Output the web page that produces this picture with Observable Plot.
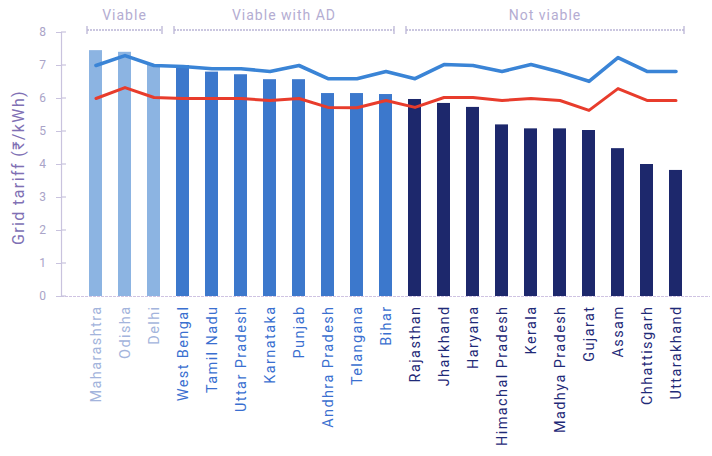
<!DOCTYPE html>
<html>
<head>
<meta charset="utf-8">
<script src="https://cdn.jsdelivr.net/npm/d3@7"></script>
<script src="https://cdn.jsdelivr.net/npm/@observablehq/plot@0.6"></script>
<style>
  html, body { margin: 0; padding: 0; background: #fff; }
  svg { font-family: Roboto, "DejaVu Sans", sans-serif; }
</style>
</head>
<body>
<div id="chart"></div>
<script>
const states = ["Maharashtra","Odisha","Delhi","West Bengal","Tamil Nadu","Uttar Pradesh","Karnataka","Punjab","Andhra Pradesh","Telangana","Bihar","Rajasthan","Jharkhand","Haryana","Himachal Pradesh","Kerala","Madhya Pradesh","Gujarat","Assam","Chhattisgarh","Uttarakhand"];
const groupOf = ["Viable","Viable","Viable","Viable with AD","Viable with AD","Viable with AD","Viable with AD","Viable with AD","Viable with AD","Viable with AD","Viable with AD","Not viable","Not viable","Not viable","Not viable","Not viable","Not viable","Not viable","Not viable","Not viable","Not viable"];
const gridTariff = [7.45,7.4,7.02,7.0,6.8,6.72,6.57,6.57,6.15,6.15,6.12,5.97,5.85,5.73,5.2,5.08,5.08,5.03,4.48,4.0,3.82];
const blueLine = [7.0,7.3,7.0,6.97,6.9,6.9,6.82,7.0,6.6,6.6,6.82,6.6,7.03,7.0,6.82,7.03,6.8,6.52,7.24,6.82,6.82];
const redLine = [6.0,6.33,6.03,6.0,6.0,6.0,5.94,6.0,5.73,5.72,5.94,5.73,6.03,6.03,5.94,6.0,5.94,5.64,6.3,5.94,5.94];
const groupNames = ["Viable","Viable with AD","Not viable"];
const yTicks = [0,1,2,3,4,5,6,7,8];
const yTitle = "Grid tariff (₹/kWh)";

const barColors = ["#8cb4e2","#3c78cc","#1d286c"];
const labelColors = ["#a3b4dc","#3a6fd0","#1f2a78"];
const labelWeights = [400, 600, 600];

const data = states.map((s, i) => ({state: s, group: groupOf[i], tariff: gridTariff[i], blue: blueLine[i], red: redLine[i]}));

const plot = Plot.plot({
  width: 712,
  height: 456,
  marginTop: 32,
  marginBottom: 160,
  marginLeft: 61,
  marginRight: 2,
  x: {domain: states, paddingInner: 0.55, paddingOuter: 0.6, axis: null},
  y: {domain: [0, 8], axis: null},
  color: {domain: groupNames, range: barColors},
  marks: [
    Plot.barY(data, {x: "state", y: "tariff", fill: "group"}),
    Plot.ruleY([0], {stroke: "#cfc3e2", strokeWidth: 1.2, strokeDasharray: "3,1"}),
    Plot.frame({anchor: "left", stroke: "#c9c3de", strokeWidth: 1.2}),
    Plot.axisY({ticks: yTicks, tickSize: 5, tickPadding: 9, stroke: "#c9c3de", fill: "#aaa4c8", fontSize: 12, label: null}),
    Plot.lineY(data, {x: "state", y: "blue", stroke: "#3a84d6", strokeWidth: 3.6, curve: "linear"}),
    Plot.lineY(data, {x: "state", y: "red", stroke: "#e83c2c", strokeWidth: 3, curve: "linear"}),
    Plot.text(data, {x: "state", y: () => 0, text: "state", rotate: -90, textAnchor: "end", dy: 9,
      fill: d => labelColors[groupNames.indexOf(d.group)], fontSize: 14.5,
      fontWeight: d => labelWeights[groupNames.indexOf(d.group)]}),
    Plot.text([yTitle], {frameAnchor: "left", textAnchor: "middle", dx: -43, dy: 3, rotate: -90, fill: "#8070b4", fontSize: 16})
  ]
});

const xs = plot.scale("x");
const ys = plot.scale("y");
const bw = xs.bandwidth;
const svg = d3.select(plot);
svg.selectAll("text").style("letter-spacing", "1.4px");

// tick marks crossing to the right of the axis line
const axisX = 61;
const tg = svg.append("g");
yTicks.forEach(t => tg.append("line").attr("x1", axisX).attr("x2", axisX + 5)
  .attr("y1", ys.apply(t)).attr("y2", ys.apply(t)).attr("stroke", "#c9c3de").attr("stroke-width", 1.2));

// group headers with brackets
const gh = svg.append("g");
const yb = ys.apply(8) - 2;
groupNames.forEach(g => {
  const members = data.filter(d => d.group === g);
  const x0 = xs.apply(members[0].state) - 2;
  const x1 = xs.apply(members[members.length - 1].state) + bw + 2;
  gh.append("line").attr("x1", x0).attr("x2", x1).attr("y1", yb).attr("y2", yb)
    .attr("stroke", "#bbb5d6").attr("stroke-width", 1.3).attr("stroke-dasharray", "2,1");
  [x0, x1].forEach(x => gh.append("line").attr("x1", x).attr("x2", x).attr("y1", yb - 4).attr("y2", yb + 4)
    .attr("stroke", "#bbb5d6").attr("stroke-width", 1.3));
  gh.append("text").attr("x", (x0 + x1) / 2).attr("y", yb - 10).attr("text-anchor", "middle")
    .attr("fill", "#b4add2").attr("font-size", 14).style("letter-spacing", "1px").text(g);
});

document.getElementById("chart").appendChild(plot);
</script>
</body>
</html>
